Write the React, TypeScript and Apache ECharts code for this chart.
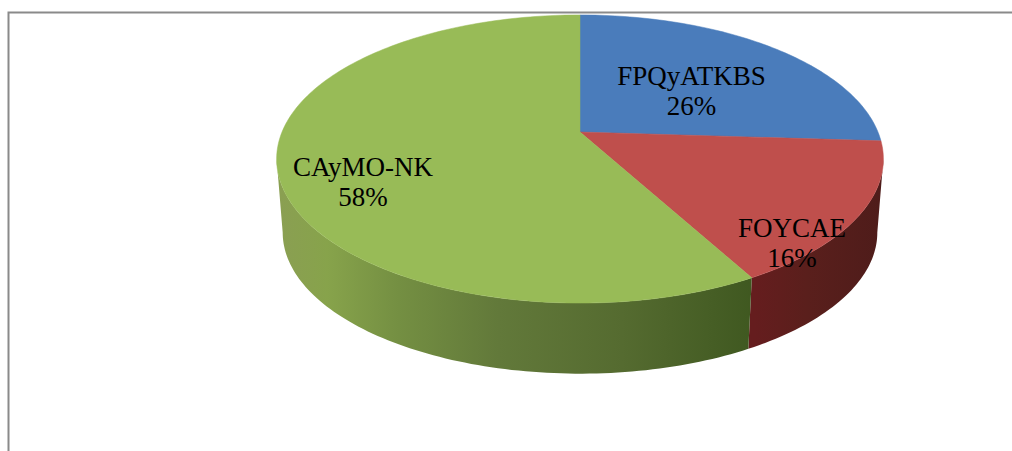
import React, { useEffect, useRef } from "react";
import * as echarts from "echarts";

const categories = ["FPQyATKBS", "FOYCAE", "CAyMO-NK"];
const shares = [26, 16, 58];
const percentLabels = ["26%", "16%", "58%"];

const WIDTH = 1012;
const HEIGHT = 451;
const topColors = ["#4a7cbb", "#bf4f4c", "#98bb57"];
const labelCentres = [
  [691.5, 91],
  [792, 243],
  [363, 182],
];

// Perspective view of the pie disc
const CX = 580;
const APEX_Y = 132;
const RADIUS = 298;
const DEPTH = 139;
const PERSPECTIVE = 0.1875;
const BASE_SCALE = 0.98;
const BASE_DROP = 74;
const RIGHT_EXTREME = Math.acos(-PERSPECTIVE);
const LEFT_EXTREME = 2 * Math.PI - RIGHT_EXTREME;

const rim = (t: number): number[] => {
  const y = -Math.cos(t);
  const w = 1 - PERSPECTIVE * y;
  return [CX + (RADIUS * Math.sin(t)) / w, APEX_Y + (DEPTH * y) / w];
};
const baseRim = (t: number): number[] => {
  const p = rim(t);
  return [CX + (p[0] - CX) * BASE_SCALE, APEX_Y + BASE_DROP + (p[1] - APEX_Y) * BASE_SCALE];
};
const sweep = (a: number, b: number, fn: (t: number) => number[]): number[][] => {
  const n = Math.max(2, Math.ceil(Math.abs(b - a) / 0.02));
  const out: number[][] = [];
  for (let i = 0; i <= n; i++) out.push(fn(a + ((b - a) * i) / n));
  return out;
};

const sideFills: Record<number, any> = {
  1: new echarts.graphic.LinearGradient(755, 0, 884, 0, [
    { offset: 0, color: "#651d1e" },
    { offset: 0.4, color: "#5a1f1c" },
    { offset: 1, color: "#4e1c1a" },
  ], true),
  2: new echarts.graphic.LinearGradient(280, 0, 755, 0, [
    { offset: 0, color: "#8a9f52" },
    { offset: 0.1, color: "#87a34b" },
    { offset: 0.25, color: "#748f42" },
    { offset: 0.46, color: "#62793a" },
    { offset: 0.72, color: "#556b30" },
    { offset: 1, color: "#3f5820" },
  ], true),
};

const total = shares.reduce((a, b) => a + b, 0);

export default function App() {
  const ref = useRef<HTMLDivElement>(null);
  useEffect(() => {
    document.body.style.margin = "0";
    document.body.style.overflow = "hidden";
    const chart = echarts.init(ref.current!, null, { renderer: "svg" });
    chart.setOption({
      animation: false,
      backgroundColor: "#ffffff",
      graphic: [
        {
          type: "polyline",
          shape: { points: [[8.5, HEIGHT], [8.5, 12.5], [WIDTH, 12.5]] },
          style: { stroke: "#8a8a8a", lineWidth: 2, fill: "none" },
          silent: true,
        },
      ],
      series: [
        {
          type: "custom",
          coordinateSystem: "none",
          silent: true,
          data: categories.map((name, i) => ({ name, value: [shares[i], i] })),
          renderItem: (_p: any, api: any) => {
            const i = api.value(1) as number;
            let before = 0;
            for (let k = 0; k < i; k++) before += shares[k];
            const a0 = (before / total) * 2 * Math.PI;
            const a1 = ((before + (api.value(0) as number)) / total) * 2 * Math.PI;
            const children: any[] = [];
            const s0 = Math.max(a0, RIGHT_EXTREME);
            const s1 = Math.min(a1, LEFT_EXTREME);
            if (s1 > s0) {
              children.push({
                type: "polygon",
                shape: { points: [...sweep(s0, s1, rim), ...sweep(s1, s0, baseRim)] },
                style: { fill: sideFills[i] },
              });
            }
            children.push({
              type: "polygon",
              shape: { points: [[CX, APEX_Y], ...sweep(a0, a1, rim)] },
              style: { fill: topColors[i], stroke: topColors[i], lineWidth: 0.5 },
            });
            children.push({
              type: "text",
              z2: 10,
              style: {
                x: labelCentres[i][0],
                y: labelCentres[i][1],
                text: `${categories[i]}\n${percentLabels[i]}`,
                fill: "#000000",
                font: '27px "Liberation Serif"',
                lineHeight: 30,
                align: "center",
                verticalAlign: "middle",
              },
            });
            return { type: "group", children };
          },
        },
      ],
    });
    return () => chart.dispose();
  }, []);
  return <div ref={ref} style={{ width: WIDTH, height: HEIGHT }} />;
}
